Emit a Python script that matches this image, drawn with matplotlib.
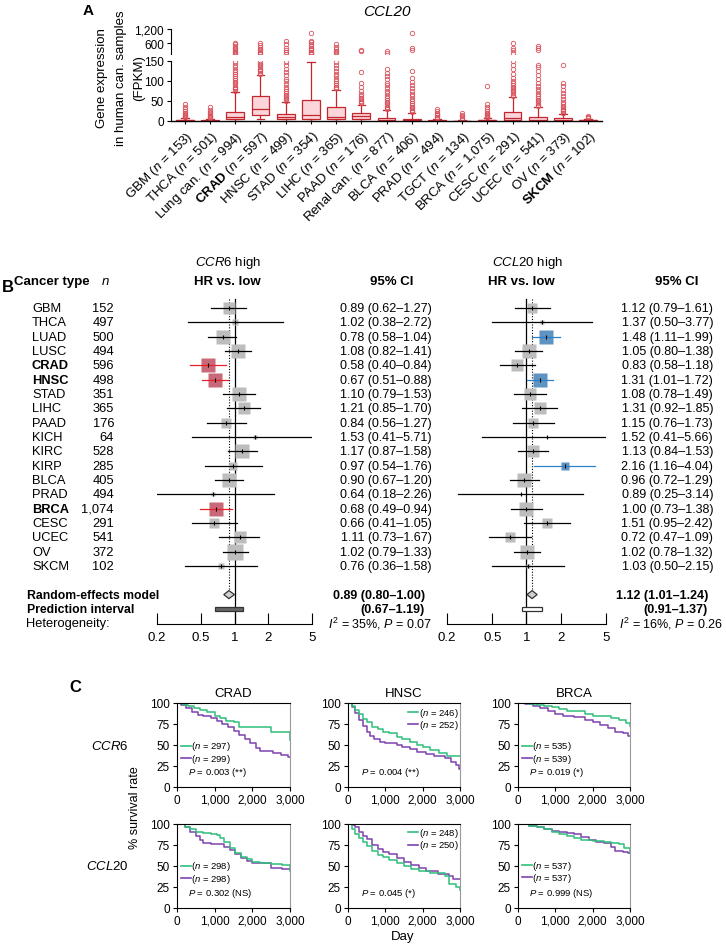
import numpy as np
import matplotlib
matplotlib.use('Agg')
import matplotlib.pyplot as plt
from matplotlib.patches import Polygon, Rectangle

plt.rcParams['font.family'] = ['Liberation Sans', 'DejaVu Sans']
plt.rcParams['mathtext.fontset'] = 'custom'
plt.rcParams['mathtext.rm'] = 'Liberation Sans'
plt.rcParams['mathtext.it'] = 'Liberation Sans:italic'
plt.rcParams['mathtext.bf'] = 'Liberation Sans:bold'

# ---------------- Panel A data (CCL20 expression, FPKM) ----------------
a_names = ['GBM', 'THCA', 'Lung can.', 'CRAD', 'HNSC', 'STAD', 'LIHC', 'PAAD',
           'Renal can.', 'BLCA', 'PRAD', 'TGCT', 'BRCA', 'CESC', 'UCEC', 'OV', 'SKCM']
a_n = ['153', '501', '994', '597', '499', '354', '365', '176', '877', '406', '494',
       '134', '1,075', '291', '541', '373', '102']
a_bold = ['CRAD', 'SKCM']
a_q1 = [0.5, 0.3, 4, 14, 4, 4, 4, 6, 1, 1, 0.3, 0.2, 0.5, 3, 1, 1, 0.5]
a_med = [1.5, 1, 9, 29, 10, 15, 10, 12, 3, 2, 1, 0.5, 1.5, 8, 3, 3, 1.5]
a_q3 = [3, 2.5, 22, 63, 17, 52, 34, 21, 7, 4, 2, 1, 3, 22, 10, 7, 3]
a_lo = [0, 0, 0, 4, 0, 0, 0, 0, 0, 0, 0, 0, 0, 0, 0, 0, 0]
a_hi = [7, 5, 73, 115, 48, 148, 78, 41, 28, 20, 5, 3, 7, 60, 35, 17, 6]
a_fliers = [
    [9, 11, 13, 15, 18, 21, 25, 31, 36, 42],
    [7, 9, 11, 13, 16, 19, 23, 28, 35],
    [76, 79, 82, 86, 90, 94, 98, 103, 108, 113, 118, 123, 128, 134, 140, 147,
     160, 190, 230, 280, 340, 410, 480, 560, 610],
    [118, 121, 124, 127, 131, 135, 139, 143, 147, 165, 200, 250, 310, 380, 450, 530, 600],
    [51, 54, 58, 62, 66, 70, 75, 80, 86, 92, 99, 106, 114, 122, 131, 140, 148,
     170, 220, 300, 400, 550, 700],
    [160, 180, 210, 250, 300, 360, 420, 480, 560, 640, 700, 1050],
    [82, 86, 90, 95, 100, 106, 112, 118, 125, 132, 140, 148, 170, 220, 290, 370, 460, 550],
    [44, 47, 50, 54, 58, 63, 68, 75, 85, 95, 123, 260, 300],
    [30, 33, 36, 40, 44, 48, 53, 58, 63, 69, 75, 82, 89, 96, 104, 112, 121, 130, 200, 280],
    [22, 25, 28, 32, 36, 40, 45, 50, 56, 62, 68, 75, 82, 90, 98, 108, 125, 330, 420, 1020],
    [7, 9, 11, 14, 17, 21, 25, 31],
    [5, 8, 12, 16, 20],
    [9, 11, 13, 15, 18, 21, 25, 30, 36, 42, 88],
    [63, 66, 70, 74, 78, 82, 86, 90, 95, 100, 108, 118, 130, 140, 150, 200, 300, 420, 600],
    [38, 41, 45, 49, 53, 58, 63, 68, 74, 80, 87, 95, 104, 115, 125, 135, 140, 300, 420, 500],
    [19, 21, 24, 27, 30, 34, 38, 43, 48, 55, 62, 70, 78, 88, 96, 140],
    [7, 8, 10, 12],
]

# ---------------- Panel B data (meta-analysis of HR) ----------------
b_types = ['GBM', 'THCA', 'LUAD', 'LUSC', 'CRAD', 'HNSC', 'STAD', 'LIHC', 'PAAD', 'KICH',
           'KIRC', 'KIRP', 'BLCA', 'PRAD', 'BRCA', 'CESC', 'UCEC', 'OV', 'SKCM']
b_n = ['152', '497', '500', '494', '596', '498', '351', '365', '176', '64',
       '528', '285', '405', '494', '1,074', '291', '541', '372', '102']
b_bold = ['CRAD', 'HNSC', 'BRCA']

ccr6_hr = [0.89, 1.02, 0.78, 1.08, 0.58, 0.67, 1.10, 1.21, 0.84, 1.53,
           1.17, 0.97, 0.90, 0.64, 0.68, 0.66, 1.11, 1.02, 0.76]
ccr6_lo = [0.62, 0.38, 0.58, 0.82, 0.40, 0.51, 0.79, 0.85, 0.56, 0.41,
           0.87, 0.54, 0.67, 0.18, 0.49, 0.41, 0.73, 0.79, 0.36]
ccr6_hi = [1.27, 2.72, 1.04, 1.41, 0.84, 0.88, 1.53, 1.70, 1.27, 5.71,
           1.58, 1.76, 1.20, 2.26, 0.94, 1.05, 1.67, 1.33, 1.58]
ccr6_w = [4.7, 0.8, 5.7, 6.8, 5.7, 6.8, 5.7, 4.7, 3.8, 0.4,
          5.7, 1.7, 6.8, 0.4, 5.7, 3.0, 4.7, 8.0, 1.2]
ccr6_sig = ['CRAD', 'HNSC', 'BRCA']
ccr6_pool = [0.89, 0.80, 1.00]
ccr6_pi = [0.67, 1.19]
ccr6_het = ['35%', '0.07']

ccl20_hr = [1.12, 1.37, 1.48, 1.05, 0.83, 1.31, 1.08, 1.31, 1.15, 1.52,
            1.13, 2.16, 0.96, 0.89, 1.00, 1.51, 0.72, 1.02, 1.03]
ccl20_lo = [0.79, 0.50, 1.11, 0.80, 0.58, 1.01, 0.78, 0.92, 0.76, 0.41,
            0.84, 1.16, 0.72, 0.25, 0.73, 0.95, 0.47, 0.78, 0.50]
ccl20_hi = [1.61, 3.77, 1.99, 1.38, 1.18, 1.72, 1.49, 1.85, 1.73, 5.66,
            1.53, 4.04, 1.29, 3.14, 1.38, 2.42, 1.09, 1.32, 2.15]
ccl20_w = [3.8, 0.4, 6.8, 6.8, 4.7, 6.8, 4.7, 4.7, 3.8, 0.2,
           4.7, 1.7, 6.8, 0.2, 6.8, 3.0, 3.8, 6.8, 0.4]
ccl20_sig = ['LUAD', 'HNSC', 'KIRP']
ccl20_pool = [1.12, 1.01, 1.24]
ccl20_pi = [0.91, 1.37]
ccl20_het = ['16%', '0.26']

# ---------------- Panel C data (Kaplan-Meier, day, % survival) ----------------
crad_ccr6_g = [(0, 100), (150, 98), (300, 96), (450, 94), (600, 92), (800, 89), (1000, 85),
               (1150, 82), (1300, 79), (1500, 77), (1650, 71), (2500, 65), (2990, 56)]
crad_ccr6_p = [(0, 100), (100, 98), (250, 94), (400, 89), (550, 86), (700, 84), (900, 82),
               (1050, 79), (1200, 75), (1350, 71), (1500, 67), (1650, 62), (1800, 57),
               (1950, 52), (2100, 46), (2200, 43), (2550, 41), (2750, 38), (2950, 36)]
hnsc_ccr6_g = [(0, 100), (100, 97), (200, 92), (300, 87), (400, 81), (500, 77), (650, 72),
               (800, 69), (950, 66), (1100, 64), (1300, 60), (1450, 57), (1650, 53),
               (1850, 50), (2000, 48), (2200, 44), (2450, 41), (2650, 37)]
hnsc_ccr6_p = [(0, 100), (100, 95), (200, 88), (300, 80), (400, 73), (500, 66), (600, 61),
               (700, 57), (850, 54), (1000, 52), (1300, 50), (1450, 48), (1650, 45),
               (1850, 42), (2100, 39), (2300, 37), (2600, 34), (2750, 30), (2900, 26), (2980, 22)]
brca_ccr6_g = [(0, 100), (300, 99), (500, 98), (700, 96), (900, 95), (1100, 93), (1300, 91),
               (1500, 90), (1800, 87), (2000, 85), (2300, 84), (2500, 82), (2700, 80),
               (2900, 76), (2990, 73)]
brca_ccr6_p = [(0, 100), (200, 99), (400, 97), (600, 94), (800, 91), (1000, 87), (1200, 85),
               (1500, 83), (1800, 80), (2000, 77), (2200, 74), (2400, 70), (2600, 66),
               (2800, 64), (2950, 61)]
crad_ccl20_g = [(0, 100), (200, 97), (350, 94), (500, 91), (700, 89), (900, 88), (1050, 87),
                (1150, 83), (1250, 78), (1400, 71), (1550, 65), (1700, 61), (1850, 58),
                (2000, 55), (2200, 53), (2500, 52), (2800, 51), (2990, 44)]
crad_ccl20_p = [(0, 100), (200, 96), (350, 91), (500, 86), (600, 81), (700, 77), (900, 76),
                (1250, 73), (1400, 69), (1550, 64), (1700, 60), (1850, 56), (2000, 53),
                (2500, 48), (2800, 47), (2950, 46)]
hnsc_ccl20_g = [(0, 100), (100, 94), (200, 88), (300, 83), (400, 78), (500, 74), (650, 68),
                (800, 63), (950, 61), (1100, 57), (1300, 54), (1500, 50), (1700, 47),
                (1900, 44), (2200, 42), (2600, 38), (2700, 29), (2900, 25), (2990, 22)]
hnsc_ccl20_p = [(0, 100), (100, 99), (200, 96), (300, 90), (400, 86), (500, 82), (650, 75),
                (800, 70), (950, 67), (1100, 64), (1300, 60), (1500, 55), (1700, 51),
                (1900, 48), (2100, 44), (2400, 41), (2700, 38), (2800, 34)]
brca_ccl20_g = [(0, 100), (300, 98), (500, 96), (700, 94), (900, 91), (1100, 88), (1300, 86),
                (1500, 83), (1700, 81), (2000, 80), (2300, 78), (2500, 77), (2700, 76),
                (2850, 72), (2990, 67)]
brca_ccl20_p = [(0, 100), (300, 98), (500, 96), (700, 94), (900, 92), (1100, 90), (1300, 89),
                (1500, 88), (1700, 85), (1900, 81), (2100, 79), (2300, 77), (2500, 73),
                (2600, 68), (2800, 67), (2950, 66)]

km_titles = ['CRAD', 'HNSC', 'BRCA']
km_curves = [[(crad_ccr6_g, crad_ccr6_p), (hnsc_ccr6_g, hnsc_ccr6_p), (brca_ccr6_g, brca_ccr6_p)],
             [(crad_ccl20_g, crad_ccl20_p), (hnsc_ccl20_g, hnsc_ccl20_p), (brca_ccl20_g, brca_ccl20_p)]]
km_n = [[('297', '299'), ('246', '252'), ('535', '539')],
        [('298', '298'), ('248', '250'), ('537', '537')]]
km_p = [['0.003 (**)', '0.004 (**)', '0.019 (*)'],
        ['0.302 (NS)', '0.045 (*)', '0.999 (NS)']]

# ---------------- figure ----------------
W, H = 726, 945
fig = plt.figure(figsize=(W / 100, H / 100), dpi=100)


def px_axes(x0, y0, x1, y1):
    return fig.add_axes([x0 / W, 1 - y1 / H, (x1 - x0) / W, (y1 - y0) / H])


RED = '#c1272d'
FLIER = '#d9535d'
GREEN = '#2fbf7c'
PURPLE = '#7d43b0'

# ---- Panel A ----
stats = []
for i in range(len(a_names)):
    stats.append(dict(med=a_med[i], q1=a_q1[i], q3=a_q3[i], whislo=a_lo[i],
                      whishi=a_hi[i], fliers=a_fliers[i]))

ax_lo = px_axes(171, 62, 602, 122)
ax_up = px_axes(171, 30, 602, 55)
ax_lo.bxp(stats, positions=range(len(a_names)), widths=0.7, patch_artist=True,
          capwidths=0.3,
          boxprops=dict(facecolor='#fbd5da', edgecolor=RED, lw=0.9),
          medianprops=dict(color=RED, lw=0.9),
          whiskerprops=dict(color=RED, lw=0.9),
          capprops=dict(color=RED, lw=0.9),
          flierprops=dict(marker='o', mfc='none', mec=FLIER, ms=3.2, mew=0.6))
# upper (broken) segment: only the high outliers
for i, f in enumerate(a_fliers):
    big = [v for v in f if v > 150]
    ax_up.plot([i] * len(big), big, ls='none', marker='o', mfc='none', mec=FLIER,
               ms=3.2, mew=0.6)

for ax in (ax_lo, ax_up):
    ax.set_xlim(-0.55, len(a_names) - 0.45)
    for s in ('top', 'right'):
        ax.spines[s].set_visible(False)
    ax.tick_params(labelsize=8.5, length=3, width=0.8, pad=2)

ax_lo.set_ylim(0, 150)
ax_lo.set_yticks([0, 50, 100, 150])
ax_lo.spines['bottom'].set_linewidth(1.0)
ax_lo.set_xticks(range(len(a_names)))
xl = []
for nm, nn in zip(a_names, a_n):
    lab = r'$\mathbf{%s}$' % nm if nm in a_bold else nm
    xl.append(lab + r' ($n$ = %s)' % nn)
ax_lo.set_xticklabels(xl, rotation=45, ha='right', rotation_mode='anchor', fontsize=9.5)
ax_lo.tick_params(axis='x', length=2, pad=3)

ax_up.set_ylim(150, 1200)
ax_up.set_yticks([600, 1200])
ax_up.set_yticklabels(['600', '1,200'])
ax_up.spines['bottom'].set_visible(False)
ax_up.set_xticks([])

# ---- Panel B ----
row_y0, row_dy = 309, 14.33


def forest(x0, x1, hr, lo, hi, w, sig, sigcol, linecol, pool, pi, pi_fill):
    ax = px_axes(x0, 295, x1, 625)
    ax.set_xscale('log')
    ax.set_xlim(0.2, 5)
    ybot, ytop = (625 - row_y0) / row_dy, (295 - row_y0) / row_dy
    ax.set_ylim(ybot, ytop)
    for s in ('top', 'right', 'left'):
        ax.spines[s].set_visible(False)
    ax.set_yticks([])
    ax.set_xticks([0.2, 0.5, 1, 2, 5])
    ax.set_xticklabels(['0.2', '0.5', '1', '2', '5'])
    ax.xaxis.set_minor_locator(matplotlib.ticker.NullLocator())
    ax.tick_params(axis='x', direction='in', length=8, width=0.8, labelsize=9.5, pad=5)
    ax.plot([1, 1], [-0.63, ybot], color='k', lw=0.9)
    ax.plot([pool[0], pool[0]], [-0.63, 19.7], color='k', lw=0.8, ls=(0, (1, 1.5)))
    for i, t in enumerate(b_types):
        hit = t in sig
        side = 5.6 * np.sqrt(w[i]) * 0.72
        ax.plot(hr[i], i, marker='s', ms=side, mec='none',
                mfc=sigcol if hit else '#bdbdbd', zorder=2)
        ax.plot([lo[i], hi[i]], [i, i], color=linecol if hit else 'k', lw=0.9, zorder=3)
        ax.plot(hr[i], i, marker='|', ms=3.5, mew=0.8, color='k', zorder=4)
    n = len(b_types)
    ax.add_patch(Polygon([[pool[1], n + 1], [pool[0], n + 1 - 0.28], [pool[2], n + 1],
                          [pool[0], n + 1 + 0.28]], closed=True, fc='#d0d0d0', ec='#333333',
                         lw=0.9, zorder=3))
    ax.add_patch(Rectangle((pi[0], n + 2 - 0.15), pi[1] - pi[0], 0.3, fc=pi_fill,
                           ec='#333333', lw=0.9, zorder=3))
    return ax


forest(157, 312, ccr6_hr, ccr6_lo, ccr6_hi, ccr6_w, ccr6_sig, '#c96878', '#e8212b',
       ccr6_pool, ccr6_pi, '#666666')
forest(447, 606, ccl20_hr, ccl20_lo, ccl20_hi, ccl20_w, ccl20_sig, '#5f93c2', '#2b80c8',
       ccl20_pool, ccl20_pi, 'white')

# ---- Panel C ----
km_x = [(177, 290), (348, 460), (518, 630)]
km_y = [(704, 788), (825, 909)]
leg_pos = [[(0.035, 0.49), (0.54, 0.89), (0.036, 0.49)],
           [(0.035, 0.50), (0.54, 0.90), (0.036, 0.51)]]
for r in range(2):
    for c in range(3):
        ax = px_axes(km_x[c][0], km_y[r][0], km_x[c][1], km_y[r][1])
        g, p = km_curves[r][c]
        for crv, col in ((p, PURPLE), (g, GREEN)):
            t = [q[0] for q in crv] + [3000]
            s = [q[1] for q in crv] + [crv[-1][1]]
            ax.step(t, s, where='post', color=col, lw=1.1)
        ax.set_xlim(0, 3000)
        ax.set_ylim(0, 100)
        ax.set_xticks([0, 1000, 2000, 3000])
        ax.set_xticklabels(['0', '1,000', '2,000', '3,000'])
        ax.set_yticks([0, 25, 50, 75, 100])
        ax.tick_params(labelsize=8.5, length=3, width=0.8, pad=2)
        ax.spines['right'].set_color('#999999')
        for sp in ax.spines.values():
            sp.set_linewidth(0.8)
        lx, ly = leg_pos[r][c]
        for k, (col, nn) in enumerate(((GREEN, km_n[r][c][0]), (PURPLE, km_n[r][c][1]))):
            yy = ly - 0.145 * k
            ax.plot([lx, lx + 0.085], [yy, yy], color=col, lw=1.2, transform=ax.transAxes)
            ax.text(lx + 0.09, yy, r'($n$ = %s)' % nn, transform=ax.transAxes,
                    va='center', ha='left', fontsize=6.8)
        px_ = lx + 0.06 if c != 1 else 0.12
        ax.text(px_, 0.18, r'$P$ = ' + km_p[r][c], transform=ax.transAxes,
                va='center', ha='left', fontsize=6.8)
        if r == 0:
            ax.set_title(km_titles[c], fontsize=9.5, pad=5)

# ---- overlay text in pixel coordinates ----
ov = fig.add_axes([0, 0, 1, 1])
ov.set_xlim(0, W)
ov.set_ylim(H, 0)
ov.axis('off')
ov.patch.set_visible(False)

ov.text(88, 11, 'A', fontsize=11, fontweight='bold', ha='center', va='center')
ov.text(387, 12, 'CCL20', fontsize=11, style='italic', ha='center', va='center')
for xx, line in zip((102, 121, 139), ('Gene expression', 'in human can. samples', '(FPKM)')):
    ov.text(xx, 78, line, rotation=90, fontsize=9.5, ha='center', va='center')

ov.text(8, 287, 'B', fontsize=12, fontweight='bold', ha='center', va='center')
ov.text(14, 282, 'Cancer type', fontsize=9.5, fontweight='bold', ha='left', va='center')
ov.text(105, 282, r'$n$', fontsize=9.5, ha='center', va='center')
ov.text(228, 263, r'$CCR6$ high', fontsize=9.5, ha='center', va='center')
ov.text(227, 282, 'HR vs. low', fontsize=9.5, fontweight='bold', ha='center', va='center')
ov.text(392, 282, '95% CI', fontsize=9.5, fontweight='bold', ha='center', va='center')
ov.text(528, 263, r'$CCL20$ high', fontsize=9.5, ha='center', va='center')
ov.text(521, 282, 'HR vs. low', fontsize=9.5, fontweight='bold', ha='center', va='center')
ov.text(677, 282, '95% CI', fontsize=9.5, fontweight='bold', ha='center', va='center')

for i, t in enumerate(b_types):
    y = row_y0 + row_dy * i
    ov.text(32, y, t, fontsize=9.3, ha='left', va='center',
            fontweight='bold' if t in b_bold else 'normal')
    ov.text(114, y, b_n[i], fontsize=9.3, ha='right', va='center')
    ov.text(432, y, '%.2f (%.2f–%.2f)' % (ccr6_hr[i], ccr6_lo[i], ccr6_hi[i]),
            fontsize=9, ha='right', va='center')
    ov.text(713, y, '%.2f (%.2f–%.2f)' % (ccl20_hr[i], ccl20_lo[i], ccl20_hi[i]),
            fontsize=9, ha='right', va='center')

nrow = len(b_types)
y_re = row_y0 + row_dy * (nrow + 1)
y_pi = row_y0 + row_dy * (nrow + 2)
y_het = row_y0 + row_dy * (nrow + 3)
ov.text(27, y_re, 'Random-effects model', fontsize=8.8, fontweight='bold', ha='left', va='center')
ov.text(27, y_pi, 'Prediction interval', fontsize=8.8, fontweight='bold', ha='left', va='center')
ov.text(26, y_het, 'Heterogeneity:', fontsize=9.3, ha='left', va='center')
for xr, xh, pool, pi, het in ((425, 432, ccr6_pool, ccr6_pi, ccr6_het),
                              (708, 723, ccl20_pool, ccl20_pi, ccl20_het)):
    ov.text(xr, y_re, '%.2f (%.2f–%.2f)' % tuple(pool), fontsize=9, fontweight='bold',
            ha='right', va='center')
    ov.text(xr, y_pi, '(%.2f–%.2f)' % tuple(pi), fontsize=9, fontweight='bold',
            ha='right', va='center')
    ov.text(xh, y_het, r'$I^2$ = %s, $P$ = %s' % (het[0], het[1]),
            fontsize=9, ha='right', va='center')

ov.text(75, 687, 'C', fontsize=12, fontweight='bold', ha='center', va='center')
ov.text(110, 747, r'$CCR6$', fontsize=9.5, ha='center', va='center')
ov.text(107, 867, r'$CCL20$', fontsize=9.5, ha='center', va='center')
ov.text(135, 808, '% survival rate', fontsize=9, rotation=90, ha='center', va='center')
ov.text(403, 937, 'Day', fontsize=9.5, ha='center', va='center')

fig.savefig('out.png', dpi=100)
